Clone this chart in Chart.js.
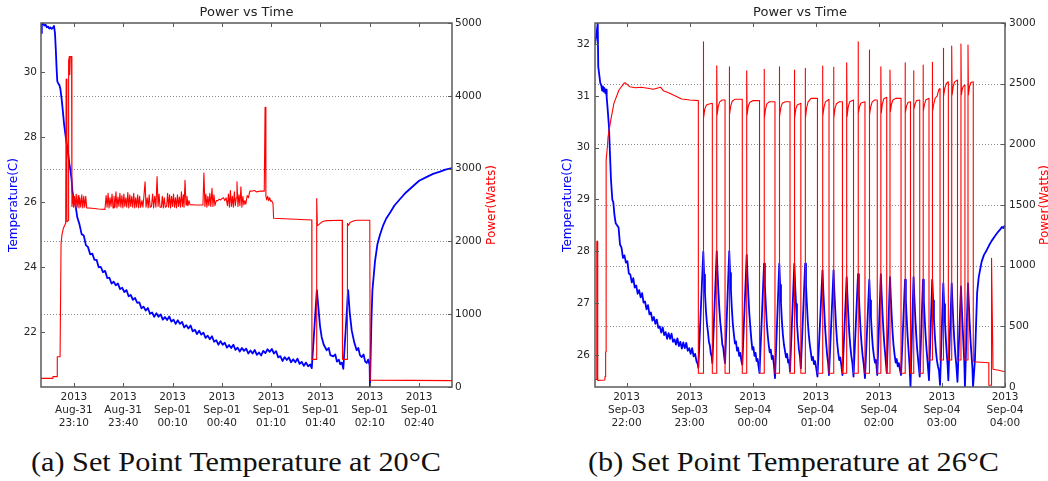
<!DOCTYPE html>
<html>
<head>
<meta charset="utf-8">
<script src="https://cdn.jsdelivr.net/npm/chart.js@4.4.1/dist/chart.umd.min.js"></script>
<style>
  html, body { margin: 0; padding: 0; background: #fff; }
  #page { position: relative; width: 1048px; height: 481px; overflow: hidden; background: #fff; }
  #page canvas { position: absolute; top: 0; }
  #chartA { left: 0; }
  #chartB { left: 524px; }
  .caption { position: absolute; top: 447px; font-family: "Liberation Serif", serif; font-size: 27px; color: #111; white-space: nowrap; transform-origin: left top; }
</style>
</head>
<body>
<div id="page">
  <canvas id="chartA" width="524" height="430"></canvas>
  <canvas id="chartB" width="524" height="430"></canvas>
  <div class="caption" id="capA">(a) Set Point Temperature at 20°C</div>
  <div class="caption" id="capB">(b) Set Point Temperature at 26°C</div>
</div>
<script>
"use strict";

// ---- chart (a): minutes since Aug-31 22:50 ----
const timeRangeA = [0, 250];
const tickMinutesA = [20, 50, 80, 110, 140, 170, 200, 230];
const tickLabelsA = [
    ['2013', 'Aug-31', '23:10'], ['2013', 'Aug-31', '23:40'], ['2013', 'Sep-01', '00:10'], ['2013', 'Sep-01', '00:40'],
    ['2013', 'Sep-01', '01:10'], ['2013', 'Sep-01', '01:40'], ['2013', 'Sep-01', '02:10'], ['2013', 'Sep-01', '02:40']
];
const tempRangeA = [20.32, 31.51];
const tempTicksA = [22, 24, 26, 28, 30];
const powerRangeA = [0, 5000];
const powerTicksA = [0, 1000, 2000, 3000, 4000, 5000];

// temperature (C) as [minute, value]
const tempA = [
    [0,31.2],[0.5,31.45],[1.2,31.5],[2,31.43],[2.8,31.46],[3.5,31.38],[4.3,31.4],[5,31.34],[5.8,31.37],[6.5,31.33],[7.2,31.36],[7.9,31.42],
    [8.5,31.2],[9,30.7],[9.5,30.1],[9.9,29.72],[10.5,29.65],[11.2,29.6],[11.8,29.48],[12.5,29.2],[13.3,28.8],[14,28.42],[14.8,28.1],
    [15.6,27.8],[16.4,27.55],[17.2,27.2],[18,26.95],[18.6,26.7],[19.1,26.35],[19.6,26.18],[20.2,26.12],
    [20.8,25.97],[22.1,25.53],[23.4,25.32],[24.7,25.02],[26,24.98],[27.3,24.68],[28.6,24.62],[29.9,24.4],[31.2,24.42],[32.5,24.23],
    [33.8,24.23],[35.1,24.0],[36.4,24.01],[37.7,23.85],[39,23.89],[40.3,23.67],[41.6,23.68],[42.9,23.5],[44.2,23.56],[45.5,23.45],
    [46.8,23.5],[48.1,23.33],[49.4,23.37],[50.7,23.24],[52,23.3],[53.3,23.11],[54.6,23.15],[55.9,23.0],[57.2,23.06],[58.5,22.91],
    [59.8,22.92],[61.1,22.74],[62.4,22.79],[63.7,22.67],[65,22.75],[66.3,22.57],[67.6,22.61],[68.9,22.48],[70.2,22.59],[71.5,22.48],
    [72.8,22.55],[74.1,22.39],[75.4,22.47],[76.7,22.38],[78,22.49],[79.3,22.33],[80.6,22.39],[81.9,22.26],[83.2,22.37],[84.5,22.26],
    [85.8,22.32],[87.1,22.15],[88.4,22.22],[89.7,22.12],[91,22.21],[92.3,22.03],[93.6,22.08],[94.9,21.95],[96.2,22.05],[97.5,21.93],
    [98.8,21.99],[100.1,21.83],[101.4,21.9],[102.7,21.79],[104,21.88],[105.3,21.71],[106.6,21.76],[107.9,21.62],[109.2,21.73],[110.5,21.62],
    [111.8,21.68],[113.1,21.53],[114.4,21.61],[115.7,21.52],[117,21.62],[118.3,21.46],[119.6,21.53],[120.9,21.41],[122.2,21.52],[123.5,21.43],
    [124.8,21.5],[126.1,21.35],[127.4,21.44],[128.7,21.35],[130,21.46],[131.3,21.31],[132.6,21.38],[133.9,21.29],[135.2,21.43],[136.5,21.36],
    [137.8,21.48],[139.1,21.4],[140.4,21.49],[141.7,21.35],[143,21.42],[144.3,21.23],[145.6,21.27],[146.9,21.12],[148.2,21.24],[149.5,21.15],
    [150.8,21.23],[152.1,21.08],[153.4,21.17],[154.7,21.08],[156,21.19],[157.3,21.03],[158.6,21.09],[159.9,20.97],[161.2,21.07],[162.5,20.96],
    [163.8,21.01],[164.7,20.9],
    [167.8,23.3],[168.7,22.78],[169.7,22.2],[170.7,21.86],[172,21.62],[173.8,21.45],[175,21.52],[176,21.3],[177.8,21.26],[179,21.32],
    [180,21.1],[181.2,21.16],[182,21.02],[183,21.07],[183.9,20.88],
    [186.8,23.3],[187.8,22.6],[189,22.06],[190.5,21.7],[192,21.45],[193,21.52],[194,21.3],[195.1,21.24],[196.2,21.32],[197.2,21.1],
    [198.1,21.06],[199,21.16],[199.9,21.0],[200.1,20.32],
    [201,22.4],[201.6,23.3],[203.2,24.2],[204.6,24.7],[206.2,25.0],[208.2,25.3],[210,25.5],[212.3,25.68],[215,25.9],[218.4,26.1],
    [222,26.3],[226.4,26.5],[230,26.66],[234.7,26.78],[238.5,26.87],[242.7,26.94],[246,27.0],[250,27.05]
];

// power (W) as [minute, value]
const powerA = [
    [0,118],[7.2,118],[7.3,142],[9.8,142],[9.9,415],[11.6,415],[12.2,1970],[12.8,2100],[13.6,2180],[15.0,2250],[15.2,2250],
    [15.3,4230],[15.7,4230],[15.8,2270],[16.7,2290],[16.8,4480],[17.2,4540],[17.5,4290],[17.8,4540],[18.6,4540],
    [18.8,2480],[19.3,2640],[19.8,2470],[20.3,2620],[20.9,2460],[21.4,2650],[22.0,2470],[22.6,2630],[23.1,2460],[23.6,2600],
    [24.2,2470],[24.8,2640],[25.4,2460],[26.0,2620],[26.6,2470],[27.2,2620],[27.8,2460],[31,2455],[35,2445],[38.9,2440],
    [39.6,2630],[40.2,2470],[40.8,2660],[41.4,2460],[42.0,2600],[42.6,2480],[43.2,2650],[43.8,2460],[44.4,2620],[45.0,2470],
    [45.6,2680],[46.2,2460],[46.8,2610],[47.4,2480],[48.0,2660],[48.6,2470],[49.2,2630],[49.8,2460],[50.4,2650],[51.0,2480],
    [51.6,2600],[52.2,2470],[52.8,2670],[53.4,2460],[54.0,2640],[54.6,2480],[55.2,2620],[55.8,2470],[56.4,2660],[57.0,2460],
    [57.6,2600],[58.2,2470],[58.8,2640],[59.4,2460],[60.0,2620],[60.6,2470],[61.4,2560],[62.0,2470],[62.6,2620],[63.3,2820],
    [63.9,2470],[64.6,2600],[65.2,2460],[65.8,2640],[66.4,2470],[67.2,2480],[67.9,2650],[68.5,2460],[69.2,2620],[69.9,2470],
    [70.6,2890],[71.2,2480],[71.8,2650],[72.4,2470],[73.2,2470],[73.8,2620],[74.4,2460],[75.0,2600],[75.6,2470],[76.4,2480],
    [77.0,2660],[77.6,2470],[78.2,2640],[78.8,2460],[79.4,2620],[80.0,2480],[80.6,2650],[81.2,2470],[81.8,2600],[82.4,2460],
    [83.0,2640],[83.6,2480],[84.2,2610],[84.8,2470],[85.4,2680],[86.0,2480],[86.6,2640],[87.0,2470],[87.6,2840],[88.2,2500],
    [88.8,2620],[89.4,2490],[90.0,2560],[90.6,2505],[94,2500],[98.5,2500],
    [99.1,2940],[99.7,2480],[100.3,2650],[100.9,2470],[101.5,2620],[102.1,2490],[102.7,2660],[103.3,2480],[104.0,2730],[104.6,2480],
    [105.2,2640],[105.8,2490],[106.6,2560],[107.5,2560],[108.4,2580],[109.3,2570],[110.2,2590],[111.0,2600],[111.8,2560],[112.6,2600],
    [113.4,2490],[114.0,2650],[114.6,2470],[115.2,2700],[115.8,2480],[116.4,2620],[117.0,2470],[117.6,2680],[118.2,2490],[118.8,2600],
    [119.2,2820],[119.8,2480],[120.4,2640],[121.0,2490],[121.6,2750],[122.2,2470],[122.8,2620],[123.4,2500],[124.0,2560],[124.6,2510],
    [125.4,2630],[126.2,2600],[127.0,2690],[128,2690],[130,2700],[131,2680],[133,2690],[135.3,2690],[135.8,2690],
    [136.3,3843],[136.8,2620],[137.3,2570],[137.9,2620],[138.5,2560],[139.1,2600],[139.7,2550],[140.3,2560],[141.1,2520],[141.5,2318],
    [164.7,2294],[164.8,380],[167.6,380],[167.7,2590],[168.1,2220],[169,2230],[170.7,2265],[172.5,2280],[174,2285],[183.2,2290],
    [183.4,380],[186.3,380],[186.4,2250],[187,2220],[188,2260],[190,2280],[192,2290],[200,2290],[200.2,95],[250,88]
];

// ---- chart (b): minutes since Sep-03 21:30 ----
const timeRangeB = [0, 390];
const tickMinutesB = [30, 90, 150, 210, 270, 330, 390];
const tickLabelsB = [
    ['2013', 'Sep-03', '22:00'], ['2013', 'Sep-03', '23:00'], ['2013', 'Sep-04', '00:00'], ['2013', 'Sep-04', '01:00'],
    ['2013', 'Sep-04', '02:00'], ['2013', 'Sep-04', '03:00'], ['2013', 'Sep-04', '04:00']
];
const tempRangeB = [25.38, 32.405];
const tempTicksB = [26, 27, 28, 29, 30, 31, 32];
const powerRangeB = [0, 3000];
const powerTicksB = [0, 500, 1000, 1500, 2000, 2500, 3000];

const tempB = [
    [0,32.0],[1.2,32.15],[2.6,32.4],[3.1,31.56],[4.1,31.4],[5.0,31.25],[6.0,31.2],[6.8,31.1],[7.5,31.18],[8.2,31.08],[9.0,31.15],
    [9.8,31.05],[10.5,31.12],[11.1,30.98],[12.2,30.7],[13.3,30.4],[14.2,29.9],[15.2,29.38],[16.5,28.99],[17.4,28.95],[18.5,28.7],
    [19.7,28.54],[21.0,28.5],
    [22.4,28.46],[23.8,28.13],[25.2,28.07],[26.6,27.87],[28,27.92],[29.4,27.78],[30.8,27.81],[32.2,27.57],[33.6,27.55],[35,27.4],
    [36.4,27.48],[37.8,27.3],[39.2,27.34],[40.6,27.18],[42,27.25],[43.4,27.11],[44.8,27.19],[46.2,27.01],[47.6,27.03],[49,26.88],
    [50.4,26.96],[51.8,26.78],[53.2,26.82],[54.6,26.66],[56,26.73],[57.4,26.6],[58.8,26.68],[60.2,26.52],[61.6,26.55],[63,26.43],
    [64.4,26.53],[65.8,26.38],[67.2,26.44],[68.6,26.31],[70,26.42],[71.4,26.31],[72.8,26.41],[74.2,26.25],[75.6,26.3],[77,26.2],
    [78.4,26.32],[79.8,26.17],[81.2,26.25],[82.6,26.12],[84,26.24],[85.4,26.13],[86.8,26.23],[88.2,26.08],[89.6,26.13],[91,26.02],
    [92.4,26.13],[93.8,25.97],[95.2,26.02],[96.6,25.87],[97.6,25.83],[98.3,25.75],
    [103,27.99],[103.8,27.55],[104.6,27.2],[105.5,26.86],[106.4,26.62],[107.4,26.45],[108.4,26.25],[109.3,26.18],[110.2,26.02],[111,25.97],[111.6,25.84],
    [115.8,28.0],[116.6,27.58],[117.4,27.22],[118.3,26.88],[119.2,26.62],[120.2,26.42],[121.1,26.2],[122,26.14],[122.9,25.96],[123.7,25.84],
    [127.7,28.0],[128.5,27.58],[129.3,27.25],[130.2,26.88],[131.1,26.6],[132.1,26.4],[133.1,26.22],[134.1,26.26],[135.1,26.08],[136.1,26.14],
    [137.1,25.98],[138.1,26.04],[139.1,25.9],[140.1,25.81],
    [144.3,27.93],[145.1,27.5],[145.9,27.15],[146.8,26.8],[147.7,26.55],[148.7,26.3],[149.7,26.1],[150.7,26.15],[151.7,25.98],[152.7,26.04],
    [153.7,25.88],[154.7,25.92],[155.6,25.78],[156.5,25.65],
    [160.8,27.76],[161.6,27.35],[162.4,27.0],[163.3,26.65],[164.2,26.4],[165.2,26.2],[166.2,26.05],[167.2,26.1],[168.2,25.92],[169.2,25.98],[170.2,25.8],[171.2,25.55],
    [175.3,27.76],[176.1,27.35],[176.9,27.0],[177.8,26.65],[178.7,26.4],[179.7,26.2],[180.7,26.08],[181.7,25.95],[182.7,26.02],[183.7,25.85],[184.6,25.9],[185.5,25.68],
    [189.6,27.76],[190.4,27.34],[191.2,26.98],[192.1,26.62],[193,26.35],[194,26.1],[194.9,25.98],[195.8,25.74],
    [199.9,27.76],[200.7,27.35],[201.5,27.0],[202.4,26.65],[203.3,26.4],[204.3,26.2],[205.3,26.05],[206.3,25.9],[207.3,25.96],[208.3,25.82],
    [209.3,25.88],[210.4,25.75],[211.6,25.58],
    [216.4,27.63],[217.2,27.22],[218,26.88],[218.9,26.52],[219.8,26.25],[220.8,26.0],[221.7,25.85],[222.6,25.61],
    [226.9,27.63],[227.7,27.22],[228.5,26.88],[229.4,26.52],[230.3,26.25],[231.3,26.05],[232.3,25.9],[233.3,25.95],[234.3,25.8],[235.4,25.61],
    [239.4,27.5],[240.2,27.1],[241,26.76],[241.9,26.42],[242.8,26.18],[243.8,25.98],[244.8,25.85],[245.9,25.58],
    [250.2,27.56],[251,27.15],[251.8,26.8],[252.7,26.45],[253.6,26.2],[254.6,25.98],[255.6,25.82],[256.8,25.55],
    [260.9,27.45],[261.7,27.05],[262.5,26.72],[263.4,26.4],[264.3,26.15],[265.3,25.98],[266.3,25.85],[267.3,25.9],[268.5,25.61],
    [271.9,27.56],[272.7,27.15],[273.5,26.8],[274.4,26.45],[275.3,26.18],[276.3,25.95],[277.5,25.65],
    [280.6,27.5],[281.4,27.1],[282.2,26.76],[283.1,26.42],[284,26.18],[285,26.0],[286,25.85],[287,25.92],[288,25.78],[289,25.84],[290,25.72],[291.1,25.61],
    [294.9,27.45],[295.7,27.05],[296.5,26.7],[297.4,26.35],[298.3,26.08],[299.2,25.8],[300.1,25.38],
    [303,27.5],[303.8,27.1],[304.6,26.75],[305.5,26.4],[306.4,26.12],[307.4,25.9],[308.9,25.58],
    [312,27.45],[312.8,27.05],[313.6,26.7],[314.5,26.36],[315.4,26.1],[316.4,25.85],[317.7,25.51],
    [320.8,27.45],[321.6,27.05],[322.4,26.7],[323.3,26.36],[324.2,26.1],[325.2,25.9],[326.2,25.78],[327.2,25.7],[328.2,25.42],
    [331.3,27.38],[332.1,26.98],[332.9,26.62],[333.8,26.28],[334.7,26.0],[335.4,25.8],[336.1,25.51],
    [339.3,27.38],[340.1,26.98],[340.9,26.62],[341.8,26.28],[342.7,26.02],[343.7,25.8],[344.8,25.48],
    [348.1,27.32],[348.9,26.92],[349.7,26.55],[350.6,26.15],[351.3,25.85],[351.9,25.38],
    [354.8,27.38],[355.6,26.98],[356.4,26.6],[357.3,26.25],[358.2,25.98],[359,25.75],[359.6,25.38],
    [361.4,25.9],[362.5,26.6],[363.5,27.2],[365,27.5],[367.8,27.8],[370,27.93],[372.6,28.02],[375,28.12],[377.3,28.2],[380,28.28],
    [383.6,28.38],[385.5,28.42],[387,28.47],[388.5,28.45],[390,28.5]
];

const powerB = [
    [0,62],[1.6,62],[1.7,1200],[2.5,1200],[2.6,55],[9.3,58],[9.4,85],[10.0,85],[10.1,290],[10.5,290],[10.6,1870],[11.8,1980],
    [12.4,2060],[15,2200],[18,2338],[22.8,2448],[27.6,2503],[28.6,2508],[33,2475],[38.5,2466],[44,2470],[50,2462],[55.5,2454],
    [61.5,2468],[62.5,2470],[65,2442],[70,2425],[74.5,2407],[82.4,2374],[90.4,2365],[98.3,2360],
    [98.3,113],[103,113],[103,2846],[103.4,2214],[104.4,2290],[106,2324],[108.5,2332],[111.6,2338],
    [111.6,113],[115.8,113],[115.8,2648],[116.2,2242],[117.2,2310],[118.6,2350],[121,2365],[123.7,2365],
    [123.7,113],[127.7,113],[127.7,2640],[128.1,2242],[129.1,2315],[130.5,2355],[133,2371],[140.1,2371],
    [140.1,113],[144.3,113],[144.3,2607],[144.7,2242],[145.7,2310],[147.1,2345],[150,2360],[156.5,2360],
    [156.5,113],[160.8,113],[160.8,2618],[161.2,2214],[162.2,2290],[163.6,2335],[166,2351],[171.2,2351],
    [171.2,113],[175.3,113],[175.3,2640],[175.7,2228],[176.7,2300],[178.1,2338],[181,2351],[185.5,2351],
    [185.5,113],[189.6,113],[189.6,2613],[190,2214],[191,2290],[192.4,2325],[195.8,2338],
    [195.8,113],[199.9,113],[199.9,2627],[200.3,2214],[201.3,2300],[202.7,2350],[205.5,2379],[211.6,2379],
    [211.6,113],[216.4,113],[216.4,2646],[216.8,2228],[217.8,2305],[219.2,2350],[222.6,2371],
    [222.6,113],[226.9,113],[226.9,2635],[227.3,2214],[228.3,2295],[229.7,2335],[232.5,2351],[235.4,2351],
    [235.4,113],[239.4,113],[239.4,2673],[239.8,2228],[240.8,2305],[242.2,2350],[245.9,2365],
    [245.9,113],[250.2,113],[250.2,2846],[250.6,2256],[251.6,2310],[253,2340],[256.8,2351],
    [256.8,113],[260.9,113],[260.9,2778],[261.3,2242],[262.3,2310],[263.7,2350],[266,2365],[268.5,2365],
    [268.5,113],[271.9,113],[271.9,2640],[272.3,2256],[273.3,2330],[274.7,2375],[277.5,2388],
    [277.5,113],[280.6,113],[280.6,2613],[281,2269],[282,2330],[283.4,2365],[286,2379],[291.1,2379],
    [291.1,113],[294.9,113],[294.9,2673],[295.3,2256],[296.3,2315],[297.7,2345],[300.1,2351],
    [300.1,113],[303,113],[303,2607],[303.4,2283],[304.4,2330],[305.8,2360],[308.9,2365],
    [308.9,113],[312,113],[312,2654],[312.4,2269],[313.4,2330],[314.8,2368],[317.7,2379],
    [317.7,222],[320.8,222],[320.8,2676],[321.2,2269],[322.2,2330],[323.6,2380],[325.5,2400],[327,2450],[328.2,2460],
    [328.2,222],[331.3,222],[331.3,2792],[331.7,2393],[332.7,2460],[334.1,2500],[336.1,2516],
    [336.1,222],[339.3,222],[339.3,2811],[339.7,2407],[340.7,2475],[342.1,2515],[344.8,2530],
    [344.8,222],[348.1,222],[348.1,2827],[348.5,2407],[349.5,2460],[350.5,2480],[351.9,2489],
    [351.9,222],[354.8,222],[354.8,2819],[355.2,2407],[356.2,2475],[357.6,2510],[359.8,2516],
    [359.8,208],[374.6,200],[374.6,15],[377.1,15],[377.2,1061],[378.6,146],[384,138],[390,126]
];

Chart.defaults.font.family = '"DejaVu Sans", sans-serif';
Chart.defaults.font.size = 10.5;
Chart.defaults.color = '#262626';

// frame, dotted grid, inward ticks, title and axis titles (matplotlib look)
const deco = {
    id: 'deco',
    beforeDatasetsDraw(chart, args, o) {
        const {ctx, chartArea: a} = chart;
        const yr = chart.scales.y1;
        ctx.save();
        ctx.strokeStyle = '#8c8c8c';
        ctx.lineWidth = 1;
        ctx.setLineDash([1, 2]);
        yr.ticks.forEach(t => {
            if (t.value <= yr.min || t.value >= yr.max) return;
            const y = Math.round(yr.getPixelForValue(t.value)) + 0.5;
            ctx.beginPath();
            ctx.moveTo(a.left, y);
            ctx.lineTo(a.right, y);
            ctx.stroke();
        });
        ctx.restore();
    },
    afterDraw(chart, args, o) {
        const {ctx, chartArea: a, scales} = chart;
        ctx.save();
        ctx.strokeStyle = '#5a5a5a';
        ctx.lineWidth = 1.5;
        ctx.strokeRect(a.left, a.top, a.right - a.left, a.bottom - a.top);

        ctx.lineWidth = 1;
        ctx.beginPath();
        scales.x.ticks.forEach(t => {
            const x = Math.round(scales.x.getPixelForValue(t.value)) + 0.5;
            ctx.moveTo(x, a.bottom); ctx.lineTo(x, a.bottom - 4);
            ctx.moveTo(x, a.top); ctx.lineTo(x, a.top + 4);
        });
        scales.y.ticks.forEach(t => {
            const y = Math.round(scales.y.getPixelForValue(t.value)) + 0.5;
            ctx.moveTo(a.left, y); ctx.lineTo(a.left + 4, y);
        });
        scales.y1.ticks.forEach(t => {
            const y = Math.round(scales.y1.getPixelForValue(t.value)) + 0.5;
            ctx.moveTo(a.right, y); ctx.lineTo(a.right - 4, y);
        });
        ctx.stroke();

        ctx.textAlign = 'center';
        ctx.textBaseline = 'middle';
        ctx.fillStyle = '#222';
        ctx.font = '13px "DejaVu Sans"';
        ctx.fillText(o.title, (a.left + a.right) / 2, 12.5);

        ctx.font = '12px "DejaVu Sans"';
        const midY = (a.top + a.bottom) / 2;
        ctx.save();
        ctx.translate(o.leftX, midY);
        ctx.rotate(-Math.PI / 2);
        ctx.fillStyle = '#0000ff';
        ctx.fillText(o.leftLabel, 0, 0);
        ctx.restore();
        ctx.save();
        ctx.translate(o.rightX, midY);
        ctx.rotate(-Math.PI / 2);
        ctx.fillStyle = '#ff0000';
        ctx.fillText(o.rightLabel, 0, 0);
        ctx.restore();
        ctx.restore();
    }
};

function makeChart(id, d) {
    return new Chart(document.getElementById(id), {
        type: 'line',
        data: {
            datasets: [
                {label: 'Power', data: d.power, yAxisID: 'y1', borderColor: '#ff0000', borderWidth: 1.1, order: 0},
                {label: 'Temperature', data: d.temp, yAxisID: 'y', borderColor: '#0000ff', borderWidth: 1.8, order: 1}
            ]
        },
        options: {
            responsive: false,
            animation: false,
            events: [],
            layout: {padding: {top: 23, left: 0, right: 0, bottom: 0}},
            elements: {
                point: {radius: 0, hoverRadius: 0},
                line: {tension: 0, fill: false, borderJoinStyle: 'round'}
            },
            plugins: {
                legend: {display: false},
                tooltip: {enabled: false},
                deco: {title: 'Power vs Time', leftLabel: 'Temperature(C)', rightLabel: 'Power(Watts)', leftX: d.leftX, rightX: d.rightX}
            },
            scales: {
                x: {
                    type: 'linear',
                    min: d.timeRange[0],
                    max: d.timeRange[1],
                    grid: {display: false, drawTicks: false},
                    border: {display: false},
                    ticks: {
                        autoSkip: false, maxRotation: 0, minRotation: 0, padding: 3.5,
                        font: {size: 10.5, lineHeight: 1.24},
                        callback: (v, i) => d.tickLabels[i]
                    },
                    afterBuildTicks: s => { s.ticks = d.tickMinutes.map(v => ({value: v})); },
                    afterFit: s => { s.height = 43; }
                },
                y: {
                    position: 'left',
                    min: d.tempRange[0],
                    max: d.tempRange[1],
                    grid: {display: false, drawTicks: false},
                    border: {display: false},
                    ticks: {padding: d.leftPad, callback: v => String(v)},
                    afterBuildTicks: s => { s.ticks = d.tempTicks.map(v => ({value: v})); },
                    afterFit: s => { s.width = d.leftW; }
                },
                y1: {
                    position: 'right',
                    min: d.powerRange[0],
                    max: d.powerRange[1],
                    grid: {display: false, drawTicks: false},
                    border: {display: false},
                    ticks: {padding: d.rightPad, callback: v => String(v)},
                    afterBuildTicks: s => { s.ticks = d.powerTicks.map(v => ({value: v})); },
                    afterFit: s => { s.width = d.rightW; }
                }
            }
        },
        plugins: [deco]
    });
}

makeChart('chartA', {
    temp: tempA, power: powerA, timeRange: timeRangeA, tickMinutes: tickMinutesA, tickLabels: tickLabelsA,
    tempRange: tempRangeA, tempTicks: tempTicksA, powerRange: powerRangeA, powerTicks: powerTicksA,
    leftW: 41, rightW: 72, leftPad: 4, rightPad: 3, leftX: 14, rightX: 492
});

makeChart('chartB', {
    temp: tempB, power: powerB, timeRange: timeRangeB, tickMinutes: tickMinutesB, tickLabels: tickLabelsB,
    tempRange: tempRangeB, tempTicks: tempTicksB, powerRange: powerRangeB, powerTicks: powerTicksB,
    leftW: 71, rightW: 43, leftPad: 5, rightPad: 4, leftX: 44, rightX: 521
});

// captions: stretch to the width of the original figure captions
function placeCaption(id, left, width) {
    const el = document.getElementById(id);
    const w = el.getBoundingClientRect().width;
    el.style.left = left + 'px';
    el.style.transform = 'scaleX(' + (width / w).toFixed(3) + ')';
}
placeCaption('capA', 31, 410);
placeCaption('capB', 588, 411);
</script>
</body>
</html>
